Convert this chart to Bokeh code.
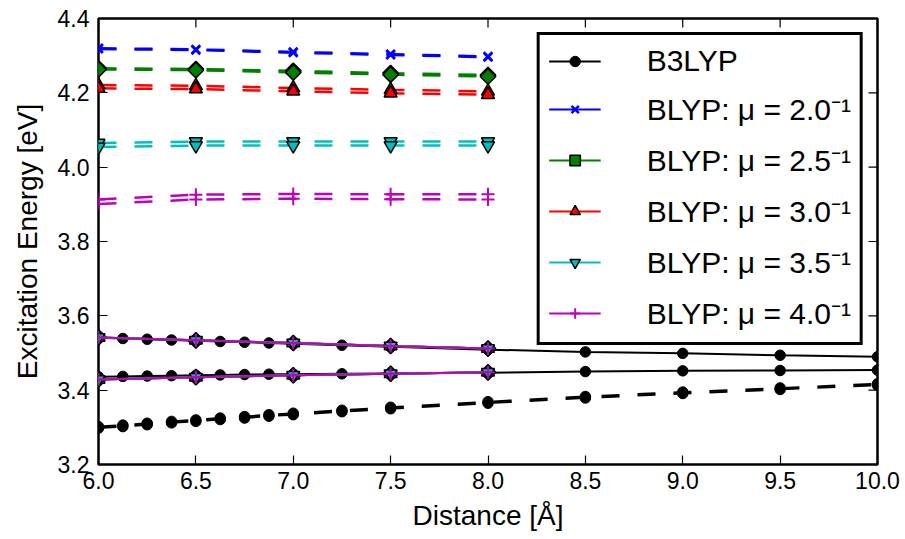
import numpy as np
from bokeh.plotting import figure
from bokeh.models import Legend, LegendItem, FixedTicker, PrintfTickFormatter, Range1d
from bokeh.embed import file_html
from bokeh.resources import INLINE

# ---------------- data ----------------
x_ticks = [6.0, 6.5, 7.0, 7.5, 8.0, 8.5, 9.0, 9.5, 10.0]
y_ticks = [3.2, 3.4, 3.6, 3.8, 4.0, 4.2, 4.4]

x_b3lyp = [6.0, 6.125, 6.25, 6.375, 6.5, 6.625, 6.75, 6.875, 7.0, 7.25, 7.5, 8.0, 8.5, 9.0, 9.5, 10.0]
b3lyp_upper = [3.541, 3.539, 3.537, 3.535, 3.533, 3.531, 3.529, 3.527, 3.525, 3.521, 3.517, 3.509, 3.503, 3.499, 3.494, 3.490]
b3lyp_lower = [3.436, 3.437, 3.438, 3.439, 3.440, 3.441, 3.442, 3.443, 3.443, 3.444, 3.445, 3.447, 3.450, 3.452, 3.453, 3.454]
b3lyp_dash_a = [3.302, 3.306, 3.311, 3.316, 3.320, 3.325, 3.329, 3.334, 3.338, 3.346, 3.354, 3.369, 3.383, 3.395, 3.406, 3.417]
b3lyp_dash_b = [3.298, 3.302, 3.307, 3.312, 3.316, 3.321, 3.325, 3.330, 3.334, 3.342, 3.350, 3.365, 3.379, 3.391, 3.402, 3.413]

x_blyp = [6.0, 6.5, 7.0, 7.5, 8.0]
mu_labels = ["2.0", "2.5", "3.0", "3.5", "4.0"]

blyp_20_upper = [3.542, 3.534, 3.527, 3.519, 3.512]
blyp_20_lower = [3.429, 3.435, 3.440, 3.444, 3.448]
blyp_20_dash_a = [4.320, 4.317, 4.310, 4.304, 4.298]
blyp_20_dash_b = [4.318, 4.315, 4.308, 4.302, 4.296]

blyp_25_upper = [3.542, 3.534, 3.527, 3.519, 3.512]
blyp_25_lower = [3.429, 3.435, 3.440, 3.444, 3.448]
blyp_25_dash_a = [4.266, 4.264, 4.259, 4.253, 4.248]
blyp_25_dash_b = [4.263, 4.261, 4.255, 4.249, 4.244]

blyp_30_upper = [3.542, 3.534, 3.527, 3.519, 3.512]
blyp_30_lower = [3.429, 3.435, 3.440, 3.444, 3.448]
blyp_30_dash_a = [4.221, 4.219, 4.213, 4.208, 4.204]
blyp_30_dash_b = [4.212, 4.210, 4.204, 4.199, 4.195]

blyp_35_upper = [3.542, 3.534, 3.527, 3.519, 3.512]
blyp_35_lower = [3.429, 3.435, 3.440, 3.444, 3.448]
blyp_35_dash_a = [4.065, 4.069, 4.069, 4.069, 4.069]
blyp_35_dash_b = [4.054, 4.058, 4.058, 4.058, 4.058]

blyp_40_upper = [3.542, 3.534, 3.527, 3.519, 3.512]
blyp_40_lower = [3.429, 3.435, 3.440, 3.444, 3.448]
blyp_40_dash_a = [3.913, 3.926, 3.928, 3.927, 3.927]
blyp_40_dash_b = [3.901, 3.913, 3.915, 3.914, 3.913]

# ---------------- figure ----------------
FONT = "Liberation Sans"

p = figure(width=900, height=539,
           x_range=Range1d(6.0, 10.0), y_range=Range1d(3.2, 4.4),
           output_backend="svg", toolbar_location=None,
           min_border_left=98, min_border_right=23, min_border_top=18, min_border_bottom=75)
p.xgrid.visible = False
p.ygrid.visible = False
p.outline_line_color = "black"
p.outline_line_width = 2.5
p.outline_line_alpha = 1.0
p.background_fill_color = "white"
p.border_fill_color = "white"


def style_axis(ax, ticks):
    ax.ticker = FixedTicker(ticks=ticks)
    ax.formatter = PrintfTickFormatter(format="%.1f")
    ax.axis_line_color = None
    ax.major_tick_in = 9
    ax.major_tick_out = 0
    ax.major_tick_line_width = 1.2
    ax.major_tick_line_color = "black"
    ax.minor_tick_line_color = None
    ax.major_label_text_font = FONT
    ax.major_label_text_color = "black"
    ax.major_label_text_font_size = "23px"
    ax.major_label_standoff = 7
    ax.axis_label_text_font = FONT
    ax.axis_label_text_font_size = "28px"
    ax.axis_label_text_font_style = "normal"
    ax.axis_label_text_color = "black"
    ax.axis_label_standoff = 8


style_axis(p.xaxis[0], x_ticks)
style_axis(p.yaxis[0], y_ticks)
p.yaxis[0].major_label_standoff = 9
p.yaxis[0].axis_label_standoff = 12
p.xaxis[0].axis_label = "Distance [Å]"
p.yaxis[0].axis_label = "Excitation Energy [eV]"

# inward ticks on the top and right frame edges (mirroring the tick lists)
tick_style = dict(line_color="black", line_width=1.2, length=9, length_units="screen")
p.ray(x=x_ticks, y=[p.y_range.end] * len(x_ticks), angle=-np.pi / 2, **tick_style)
p.ray(x=[p.x_range.end] * len(y_ticks), y=y_ticks, angle=np.pi, **tick_style)

items = []

# B3LYP
lines_style = dict(line_color="black", line_width=2)
r_b3 = p.line(x_b3lyp, b3lyp_upper, **lines_style)
p.line(x_b3lyp, b3lyp_lower, **lines_style)
p.line(x_b3lyp, b3lyp_dash_a, line_dash="18 18", **lines_style)
p.line(x_b3lyp, b3lyp_dash_b, line_dash="18 18", **lines_style)
s_b3 = None
for ys in (b3lyp_upper, b3lyp_lower, b3lyp_dash_a, b3lyp_dash_b):
    s = p.scatter(x_b3lyp, ys, marker="circle", size=10.5, fill_color="black", line_color="black")
    if s_b3 is None:
        s_b3 = s
items.append(LegendItem(label="B3LYP", renderers=[r_b3, s_b3]))

blyp_sets = [
    (blyp_20_upper, blyp_20_lower, blyp_20_dash_a, blyp_20_dash_b),
    (blyp_25_upper, blyp_25_lower, blyp_25_dash_a, blyp_25_dash_b),
    (blyp_30_upper, blyp_30_lower, blyp_30_dash_a, blyp_30_dash_b),
    (blyp_35_upper, blyp_35_lower, blyp_35_dash_a, blyp_35_dash_b),
    (blyp_40_upper, blyp_40_lower, blyp_40_dash_a, blyp_40_dash_b),
]
styles = [
    dict(color="#0000ff", marker="x", size=12, fill="#0000ff", edge="#0000ff", mlw=2.5, angle=0.0),
    dict(color="#008000", marker="square", size=11, fill="#008000", edge="black", mlw=1.5, angle=np.pi / 4),
    dict(color="#ff0000", marker="triangle", size=13, fill="#ff0000", edge="black", mlw=1.5, angle=0.0),
    dict(color="#00bfbf", marker="inverted_triangle", size=13, fill="#00bfbf", edge="black", mlw=1.5, angle=0.0),
    dict(color="#bf00bf", marker="cross", size=13, fill="#bf00bf", edge="#bf00bf", mlw=2.0, angle=0.0),
]

for mu, data, st in zip(mu_labels, blyp_sets, styles):
    upper, lower, da, db = data
    r_sol = p.line(x_blyp, upper, line_color=st["color"], line_width=2)
    p.line(x_blyp, lower, line_color=st["color"], line_width=2)
    p.line(x_blyp, da, line_color=st["color"], line_width=2.5, line_dash="18 18")
    p.line(x_blyp, db, line_color=st["color"], line_width=2.5, line_dash="18 18")
    first = None
    for ys in (upper, lower, da, db):
        s = p.scatter(x_blyp, ys, marker=st["marker"], size=st["size"], angle=st["angle"],
                      fill_color=st["fill"], line_color=st["edge"], line_width=st["mlw"])
        if first is None:
            first = s
    items.append(LegendItem(label=f"BLYP: μ = {mu}⁻¹", renderers=[r_sol, first]))

legend = Legend(items=items, location="top_right")
legend.margin = 14
legend.padding = 9
legend.spacing = 10
legend.glyph_width = 52
legend.glyph_height = 26
legend.label_height = 26
legend.label_standoff = 46
legend.label_text_font = FONT
legend.label_text_font_size = "30px"
legend.label_text_color = "black"
legend.border_line_color = "black"
legend.border_line_alpha = 1.0
legend.border_line_width = 3
legend.border_radius = 0
legend.background_fill_color = "white"
legend.background_fill_alpha = 1.0
p.add_layout(legend)

open("out.html", "w").write(file_html(p, INLINE))
